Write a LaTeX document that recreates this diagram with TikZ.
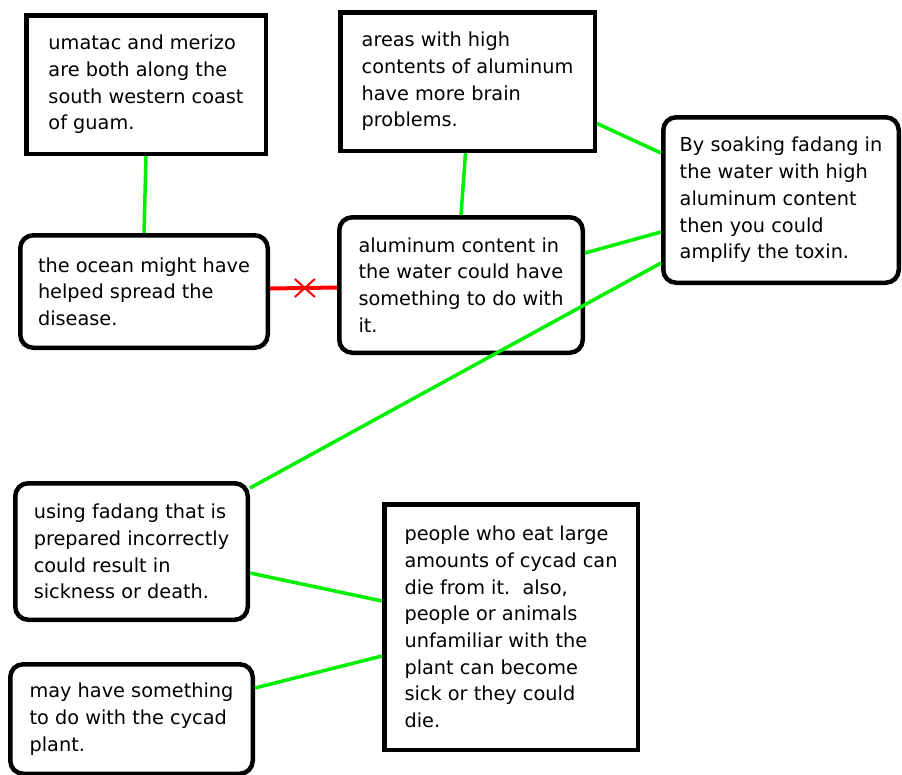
\documentclass[tikz,border=0pt]{standalone}
\usepackage{fontspec}
\setmainfont{DejaVu Sans}
\definecolor{verde}{RGB}{0,240,0}
\definecolor{vermelho}{RGB}{255,0,0}

\begin{document}
\begin{tikzpicture}[x=1pt, y=-1pt,
    caixa/.style={draw=black, line width=4.5pt, fill=white, align=left, inner sep=0pt,
        font=\fontsize{19.3}{26.7}\selectfont},
    redonda/.style={caixa, rounded corners=13pt},
    liga/.style={verde, line width=3.5pt},
    nega/.style={vermelho, line width=4pt}]
    % Moldura
    \useasboundingbox (0,0) rectangle (902,774);

    % Caixas retas
    \node[caixa, minimum width=239.5, minimum height=138.5] (costa) at (146,84.5)
        {umatac and merizo\\are both along the\\south western coast\\of guam.};
    \node[caixa, minimum width=254.5, minimum height=138.5] (areas) at (467.5,81.5)
        {areas with high\\contents of aluminum\\have more brain\\problems.};
    \node[caixa, minimum width=253.5, minimum height=245.5] (cicas) at (511,627)
        {people who eat large\\amounts of cycad can\\die from it.\ \ also,\\people or animals\\unfamiliar with the\\plant can become\\sick or they could\\die.};

    % Caixas arredondadas
    \node[redonda, minimum width=235.5, minimum height=165.5] (toxina) at (781,200)
        {By soaking fadang in\\the water with high\\aluminum content\\then you could\\amplify the toxin.};
    \node[redonda, minimum width=247.5, minimum height=112.5] (oceano) at (144,291.5)
        {the ocean might have\\helped spread the\\disease.};
    \node[redonda, minimum width=243.5, minimum height=135.5] (agua) at (461,285)
        {aluminum content in\\the water could have\\something to do with\\it.};
    \node[redonda, minimum width=232.5, minimum height=136.5] (fadang) at (131.5,551.5)
        {using fadang that is\\prepared incorrectly\\could result in\\sickness or death.};
    \node[redonda, minimum width=242.5, minimum height=109.5] (planta) at (131.5,719)
        {may have something\\to do with the cycad\\plant.};

    % Ligacoes verdes
    \draw[liga] (costa.south) -- (oceano.north);
    \draw[liga] ([xshift=-2pt]areas.south) -- (agua.north);
    \draw[liga] ([yshift=-42pt]areas.east) -- ([yshift=47pt]toxina.west);
    \draw[liga] ([yshift=32pt]agua.east) -- ([yshift=-32pt]toxina.west);
    \draw[liga] ([yshift=-63pt]toxina.west) -- ([yshift=-7pt]fadang.north east);
    \draw[liga] ([yshift=-21.5pt]fadang.east) -- ([yshift=26pt]cicas.west);
    \draw[liga] ([yshift=31pt]planta.east) -- ([yshift=-29pt]cicas.west);

    % Ligacao vermelha com X
    \draw[nega] ([yshift=3pt]oceano.east) -- ([yshift=-2.5pt]agua.west)
        coordinate[pos=0.52] (X);
    \draw[vermelho, line width=2pt] (X) ++(-10,-9) -- ++(20,18);
    \draw[vermelho, line width=2pt] (X) ++(-10,9) -- ++(20,-18);

\end{tikzpicture}
\end{document}
